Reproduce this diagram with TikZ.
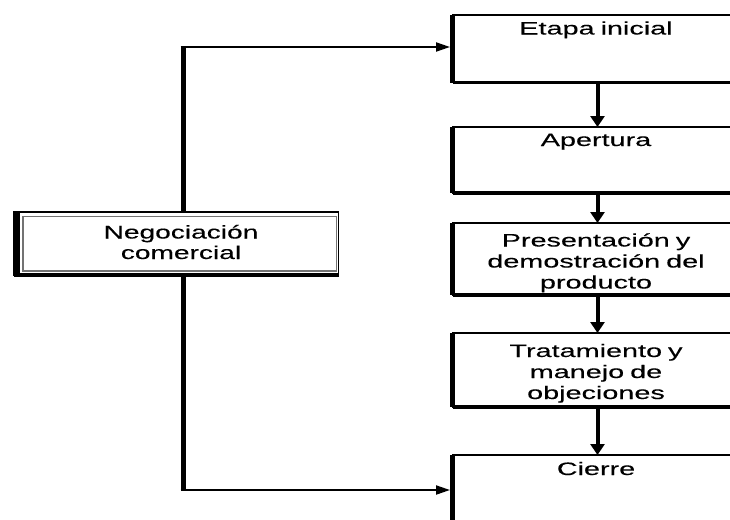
\documentclass[tikz,border=0pt]{standalone}
\usepackage{fontspec}
\setmainfont{Liberation Sans}
\newfontfamily\stagefont[FakeStretch=1.6,FakeBold=0.2]{Liberation Sans}
\newfontfamily\negfont[FakeStretch=1.52,FakeBold=0.2]{Liberation Sans}
\usetikzlibrary{arrows.meta,calc}
\begin{document}
\begin{tikzpicture}[x=1pt,y=-1pt,
  stage/.style={draw, line width=1.8pt, minimum width=290pt, anchor=north west,
    inner sep=0pt, outer sep=0pt},
  stagetext/.style={font=\stagefont\fontsize{18}{21}\selectfont, text width=280pt,
    align=center, inner sep=0pt, anchor=base},
  negtext/.style={font=\negfont\fontsize{18.5}{20.5}\selectfont, text width=300pt,
    align=center, inner sep=0pt, anchor=base},
  flow/.style={line width=4pt, -{Triangle[width=14pt,length=11pt]}},
  feed/.style={line width=2pt, -{Triangle[width=9pt,length=14pt]}},
  trunk/.style={line width=5pt},
]
\useasboundingbox (0,0) rectangle (730,519);
\clip (0,0) rectangle (730,519);

% stages of the sale, running off the right side
\node[stage, minimum height=67.5pt] (s1) at (452.5,15) {};
\node[stage, minimum height=66pt]   (s2) at (452.5,127) {};
\node[stage, minimum height=72pt]   (s3) at (452.5,223) {};
\node[stage, minimum height=74pt]   (s4) at (452.5,333) {};
\node[stage, minimum height=90pt]   (s5) at (452.5,455) {};
\foreach \s in {s1,s2,s3,s4,s5}{
  \draw[line width=5pt] (\s.north west) -- (\s.south west);
  \draw[line width=3.2pt] (\s.south west) -- (\s.south east);
}

\node[stagetext] (t1) at (596,34.5)  {Etapa inicial};
\node[stagetext] (t2) at (596,146)   {Apertura};
\node[stagetext] (t3) at (596,246.5) {Presentación y\\demostración del\\producto};
\node[stagetext] (t4) at (596,357)   {Tratamiento y\\manejo de\\objeciones};
\node[stagetext] (t5) at (596,475)   {Cierre};

\draw[flow] (s1.south) -- (s2.north);
\draw[flow] (s2.south) -- (s3.north);
\draw[flow] (s3.south) -- (s4.north);
\draw[flow] (s4.south) -- (s5.north);

% framed box on the left
\node[draw, line width=1.8pt, minimum width=324.5pt, minimum height=63pt,
  inner sep=0pt, outer sep=0pt] (neg) at (176.25,243.5) {};
\draw[line width=7pt] ([xshift=2.5pt]neg.north west) -- ([xshift=2.5pt]neg.south west);
\draw[line width=4pt] (neg.south west) -- (neg.south east);
\draw[black!55, line width=1.8pt]
  ($(neg.north west)+(9,4.5)$) rectangle ($(neg.south east)+(-2,-4)$);
\node[negtext] (negt) at (181,238.5) {Negociación\\comercial};

% branches to the first and last stage
\coordinate (up) at (183,47);
\coordinate (down) at (183,490);
\draw[trunk] (neg.north -| up) -- ([yshift=1pt]up);
\draw[feed] ([xshift=-2.5pt]up) -- ([xshift=-2.5pt]up -| s1.west);
\draw[trunk] (neg.south -| down) -- ([yshift=-1pt]down);
\draw[feed] ([xshift=-2.5pt]down) -- ([xshift=-2.5pt]down -| s5.west);
\end{tikzpicture}
\end{document}
